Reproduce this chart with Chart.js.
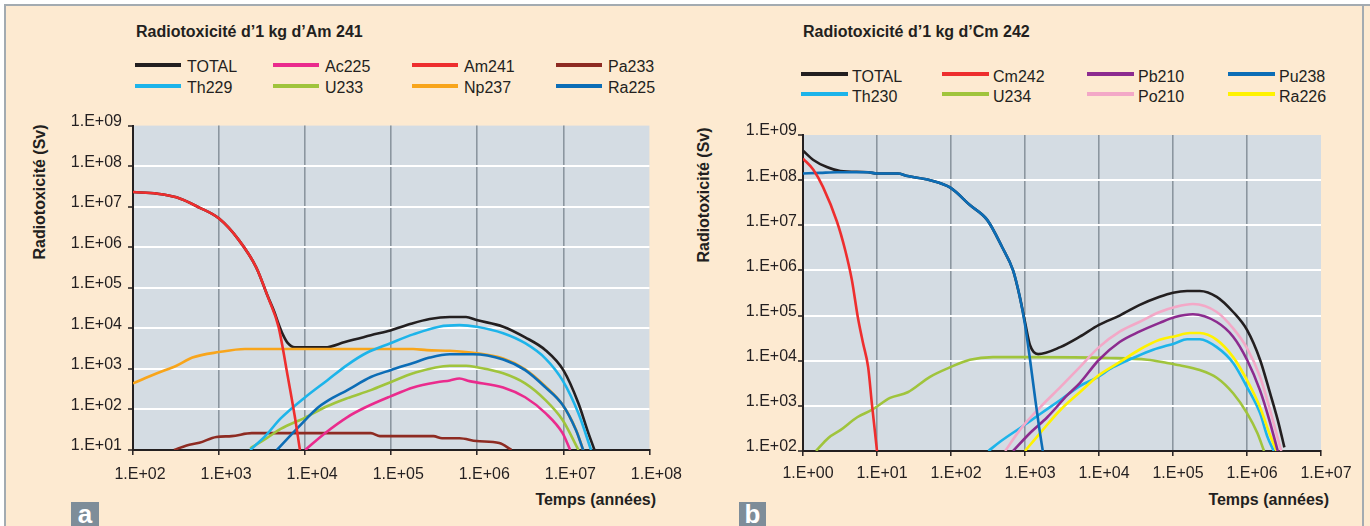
<!DOCTYPE html>
<html><head><meta charset="utf-8">
<script src="https://cdn.jsdelivr.net/npm/chart.js@4.4.1/dist/chart.umd.min.js"></script>
<style>
html,body{margin:0;padding:0;}
body{width:1370px;height:526px;overflow:hidden;position:relative;background:#fff;font-family:'Liberation Sans',Arial,Helvetica,sans-serif;color:#231f20;}
#frame{position:absolute;left:4px;top:4px;width:1366px;height:522px;background:#fdead1;border-left:2px solid #a3abb1;border-top:2px solid #a3abb1;box-sizing:border-box;}
#rline{position:absolute;left:1362px;top:4px;width:2px;height:522px;background:#a3abb1;}
.t{position:absolute;white-space:nowrap;line-height:16px;font-size:16px;}
.b{font-weight:bold;}
.sw{position:absolute;height:4px;}
.tag{position:absolute;background:#7e8d99;color:#fff;font-weight:bold;font-size:26px;line-height:24px;text-align:center;}
canvas{position:absolute;}
</style></head>
<body>
<div id="frame"></div><div id="rline"></div>
<div class="t b" style="left:136px;top:24px;">Radiotoxicité d’1 kg d’Am 241</div>
<div class="t b" style="left:803px;top:24px;">Radiotoxicité d’1 kg d’Cm 242</div>
<div class="t b" style="left:40px;top:192px;transform:translate(-50%,-50%) rotate(-90deg);">Radiotoxicité (Sv)</div>
<div class="t b" style="left:704px;top:195px;transform:translate(-50%,-50%) rotate(-90deg);">Radiotoxicité (Sv)</div>
<div class="t b" style="right:714px;top:492px;">Temps (années)</div>
<div class="t b" style="right:41px;top:492px;">Temps (années)</div>
<div class="tag" style="left:71px;top:502px;width:28px;height:24px;">a</div>
<div class="tag" style="left:739px;top:502px;width:27px;height:24px;">b</div>
<div id="legA"></div><div id="legB"></div>
<canvas id="cA" width="665" height="385" style="left:20px;top:110px;"></canvas>
<canvas id="cB" width="680" height="376" style="left:690px;top:120px;"></canvas>
<script>
// ---------- Chart a : Am 241 ----------
const xTickValsA = [1e2,1e3,1e4,1e5,1e6,1e7,1e8];
const xTickLabelsA = ['1.E+02','1.E+03','1.E+04','1.E+05','1.E+06','1.E+07','1.E+08'];
const yTickValsA = [1e1,1e2,1e3,1e4,1e5,1e6,1e7,1e8,1e9];
const yTickLabelsA = ['1.E+01','1.E+02','1.E+03','1.E+04','1.E+05','1.E+06','1.E+07','1.E+08','1.E+09'];

const totalAT = [1e2,1.9e2,3.2e2,5.9e2,1e3,1.7e3,2.7e3,3.7e3,4.4e3,4.9e3,5.5e3,6.3e3,7.6e3,1e4,1.7e4,2.9e4,5.8e4,9.8e4,1.7e5,2.8e5,4.8e5,7.4e5,9.8e5,2e6,3.6e6,6.2e6,1e7,1.5e7,1.9e7,2.3e7];
const totalAV = [2.3e7,2.1e7,1.7e7,9.5e6,5.1e6,1.5e6,3.2e5,6e4,2.5e4,1.3e4,7.1e3,4.3e3,3.4e3,3.4e3,3.4e3,4.6e3,6.8e3,8.9e3,1.3e4,1.7e4,1.9e4,1.9e4,1.6e4,1.1e4,6e3,2.9e3,9.3e2,1.4e2,31,10];
const ac225T = [1e4,1.7e4,3.1e4,4.9e4,9.8e4,1.8e5,3.4e5,4.8e5,6.2e5,8.1e5,2e6,3.6e6,6.2e6,9.8e6,1.2e7];
const ac225V = [10,26,65,1.1e2,2.1e2,3.5e2,4.7e2,5.2e2,5.8e2,5e2,3.5e2,2e2,81,26,10];
const am241T = [1e2,1.9e2,3.2e2,5.9e2,1e3,1.7e3,2.7e3,3.7e3,4.9e3,6.3e3,7.6e3,8.7e3];
const am241V = [2.3e7,2.1e7,1.7e7,9.5e6,5.1e6,1.5e6,3.2e5,5.9e4,1.1e4,6.3e2,65,10];
const pa233T = [3e2,4.2e2,5.9e2,9.3e2,1.4e3,2.4e3,5.8e4,7.4e4,3.1e5,3.9e5,6.2e5,9.8e5,1.8e6,2.5e6];
const pa233V = [10,13,15,21,22,26,26,22,22,19.5,19.5,16.6,14.8,10];
const th229T = [2.3e3,3.5e3,5.2e3,1e4,1.8e4,3.1e4,5.2e4,9.8e4,1.8e5,3.6e5,6.2e5,9.8e5,2e6,3.6e6,6.2e6,9.8e6,1.5e7,2.1e7];
const th229V = [10,23,60,2e2,5.2e2,1.26e3,2.5e3,4.3e3,7.1e3,1.1e4,1.2e4,1.1e4,7.6e3,4.3e3,1.8e3,5.2e2,79,10];
const u233T = [2.3e3,3.5e3,5.2e3,1e4,1.8e4,3.1e4,5.8e4,9.8e4,1.8e5,4.8e5,7.4e5,9.8e5,2e6,3.6e6,6.2e6,9.8e6,1.5e7];
const u233V = [11,19,33,63,1.2e2,1.9e2,3e2,4.7e2,7.8e2,1.2e3,1.2e3,1.1e3,7.8e2,4.4e2,1.7e2,55,10];
const np237T = [1e2,1.9e2,3.2e2,4.9e2,1e3,2e3,1e4,1.8e5,2.6e5,4.8e5,8.9e5,2e6,3.6e6,6.2e6,9.8e6,1.4e7,1.7e7];
const np237V = [4.4e2,7.8e2,1.2e3,1.9e3,2.6e3,3.1e3,3.1e3,3.1e3,2.9e3,2.8e3,2.5e3,1.8e3,9.8e2,3.7e2,1.3e2,32,10];
const ra225T = [4.7e3,8.3e3,1.4e4,1.8e4,3.1e4,5.8e4,9.8e4,1.8e5,2.8e5,4.8e5,8.9e5,2e6,3.6e6,6.2e6,9.8e6,1.4e7,1.7e7];
const ra225V = [10,36,1.1e2,1.6e2,3e2,6.3e2,9.3e2,1.4e3,1.9e3,2.3e3,2.3e3,1.7e3,9.3e2,3.5e2,1.3e2,31,10];

// ---------- Chart b : Cm 242 ----------
const xTickValsB = [1e0,1e1,1e2,1e3,1e4,1e5,1e6,1e7];
const xTickLabelsB = ['1.E+00','1.E+01','1.E+02','1.E+03','1.E+04','1.E+05','1.E+06','1.E+07'];
const yTickValsB = [1e2,1e3,1e4,1e5,1e6,1e7,1e8,1e9];
const yTickLabelsB = ['1.E+02','1.E+03','1.E+04','1.E+05','1.E+06','1.E+07','1.E+08','1.E+09'];

const totalBT = [1,1.38,2.1,3.2,7.6,10,19,26,52,98,1.8e2,3.1e2,4.9e2,6.9e2,8.5e2,1e3,1.17e3,1.5e3,3e3,5.5e3,1e4,1.9e4,3.5e4,6.6e4,1e5,1.55e5,2.3e5,3.9e5,6.5e5,1e6,1.5e6,2e6,2.6e6,3.2e6];
const totalBV = [4.5e8,2.8e8,1.95e8,1.6e8,1.5e8,1.4e8,1.4e8,1.23e8,1e8,6.8e7,2.8e7,1.3e7,3.3e6,1e6,2.6e5,7.2e4,2.2e4,1.4e4,2e4,3.4e4,6.2e4,1e5,1.7e5,2.6e5,3.2e5,3.5e5,3.5e5,2.6e5,1.2e5,4.8e4,1.05e4,2.2e3,4.9e2,1.2e2];
const cm242T = [1,1.38,1.86,2.88,3.72,4.57,5.5,6.46,7.59,8.51,9.33,10];
const cm242V = [3e8,1.7e8,7.1e7,1.2e7,2.8e6,6.2e5,9.3e4,2.5e4,7.2e3,1.15e3,2.9e2,1e2];
const pb210T = [6.9e2,1.17e3,2e3,3.7e3,5.5e3,1e4,1.9e4,3.5e4,6.6e4,1.07e5,1.86e5,3.9e5,6.5e5,1e6,1.5e6,2e6,2.6e6];
const pb210V = [1e2,2.5e2,5.6e2,1.7e3,3.2e3,1.05e4,2.6e4,4.4e4,6.9e4,9.3e4,1.07e5,7.2e4,3.4e4,1.05e4,2.2e3,4.9e2,1e2];
const pu238T = [1,1.7,2.9,7.6,10,19,26,52,98,1.8e2,3.1e2,4.9e2,6.9e2,8.5e2,1e3,1.17e3,1.38e3,1.55e3,1.74e3];
const pu238V = [1.4e8,1.45e8,1.5e8,1.5e8,1.4e8,1.4e8,1.23e8,1e8,6.8e7,2.8e7,1.3e7,3.3e6,1e6,2.6e5,6.3e4,1.05e4,1.35e3,3.4e2,1e2];
const th230T = [3.2e2,4.6e2,8.5e2,1.6e3,3e3,5.5e3,9.3e3,1.55e4,2.9e4,5.4e4,1.07e5,1.55e5,2.3e5,3.9e5,6.5e5,1e6,1.5e6,1.9e6,2.3e6];
const th230V = [1e2,1.6e2,3.2e2,6.6e2,1.35e3,2.75e3,4.2e3,7.2e3,1.15e4,1.75e4,2.45e4,3e4,3e4,2e4,8.9e3,2.6e3,6.9e2,2e2,1e2];
const u234T = [1.5,2.2,3.2,5.4,8.5,15,26,52,98,1.8e2,3.7e2,1e3,1.4e4,4.5e4,8.3e4,1.23e5,2.3e5,3.9e5,6.5e5,1e6,1.38e6,1.7e6];
const u234V = [1e2,1.95e2,2.9e2,5.6e2,8.1e2,1.5e3,2e3,4.4e3,7.2e3,1.05e4,1.2e4,1.2e4,1.15e4,1.05e4,8.9e3,7.9e3,6.2e3,4.2e3,1.9e3,6.9e2,2.5e2,1e2];
const po210T = [5.4e2,8.5e2,1.6e3,3e3,5.5e3,1e4,1.9e4,3.5e4,6.6e4,1.07e5,1.86e5,3.9e5,6.5e5,1e6,1.5e6,2e6,2.9e6];
const po210V = [1e2,2.9e2,9.3e2,2.6e3,7.2e3,2e4,4.4e4,7.2e4,1.2e5,1.55e5,1.8e5,1.2e5,5.2e4,1.9e4,4.4e3,9.3e2,1e2];
const ra226T = [1e3,1.6e3,3e3,5.5e3,1e4,1.9e4,3.5e4,6.6e4,1.07e5,1.7e5,2.3e5,3.9e5,6.5e5,1e6,1.5e6,2e6,2.5e6];
const ra226V = [1e2,2.5e2,8.1e2,2e3,4.8e3,9.3e3,1.75e4,2.9e4,3.5e4,4.1e4,4.1e4,2.9e4,1.2e4,3.7e3,9.3e2,2.5e2,1e2];

// legend order (name, colour, data, z-order: higher = drawn below)
const seriesA = [
  ['TOTAL','#231f20',totalAT,totalAV,10],
  ['Ac225','#ea2b8d',ac225T,ac225V,6],
  ['Am241','#ee2e2e',am241T,am241V,1],
  ['Pa233','#8e2b22',pa233T,pa233V,8],
  ['Th229','#1db4ea',th229T,th229V,4],
  ['U233','#a0c43c',u233T,u233V,7],
  ['Np237','#f8a51b',np237T,np237V,9],
  ['Ra225','#0c6db6',ra225T,ra225V,5]
];
const seriesB = [
  ['TOTAL','#231f20',totalBT,totalBV,10],
  ['Cm242','#ee2e2e',cm242T,cm242V,1],
  ['Pb210','#8c2b8f',pb210T,pb210V,6],
  ['Pu238','#0c6db6',pu238T,pu238V,2],
  ['Th230','#1db4ea',th230T,th230V,8],
  ['U234','#a0c43c',u234T,u234V,9],
  ['Po210','#f3a8c7',po210T,po210V,5],
  ['Ra226','#fff200',ra226T,ra226V,7]
];

function buildLegend(el, series, colX, rowY, lineLen, textOff) {
  let h = '';
  series.forEach((s, i) => {
    const x = colX[i % 4], y = rowY[Math.floor(i / 4)];
    h += '<div class="sw" style="left:' + x + 'px;top:' + (y - 2) + 'px;width:' + lineLen + 'px;background:' + s[1] + '"></div>';
    h += '<div class="t" style="left:' + (x + textOff) + 'px;top:' + (y - 5.5) + 'px;">' + s[0] + '</div>';
  });
  document.getElementById(el).innerHTML = h;
}
buildLegend('legA', seriesA, [135, 273, 412, 556], [64.5, 85.5], 46, 52);
buildLegend('legB', seriesB, [801, 942, 1087, 1228], [74, 94], 47, 51);

const FONT = "'Liberation Sans', Arial, Helvetica, sans-serif";
const plotBg = {
  id: 'plotBg',
  beforeDraw(c) {
    const a = c.chartArea, x = c.ctx;
    x.save(); x.fillStyle = '#d4dce3';
    x.fillRect(a.left, a.top, a.right - a.left, a.bottom - a.top);
    x.restore();
  }
};

function axis(isX, vals, labels, o) {
  return {
    type: 'logarithmic',
    min: vals[0], max: vals[vals.length - 1],
    afterBuildTicks: s => { s.ticks = vals.map(v => ({ value: v })); },
    afterFit: s => { if (isX) s.height = o.size; else s.width = o.size; },
    ticks: {
      autoSkip: false, maxRotation: 0, minRotation: 0,
      padding: o.pad, labelOffset: o.off, color: '#231f20',
      font: { family: FONT, size: 16 },
      callback: (v, i) => labels[i]
    },
    grid: {
      color: c => (c.index === 0 || c.index === vals.length - 1) ? 'rgba(0,0,0,0)' : o.grid,
      lineWidth: o.gw, tickLength: 5, tickColor: '#231f20', tickWidth: 1.5
    },
    border: { display: true, color: '#231f20', width: 2 }
  };
}

function datasets(series) {
  return series.map(s => ({
    label: s[0], borderColor: s[1], backgroundColor: s[1],
    data: s[2].map((t, i) => ({ x: t, y: s[3][i] })),
    order: s[4], borderWidth: 2.6, pointRadius: 0, fill: false,
    cubicInterpolationMode: 'monotone'
  }));
}

function make(id, series, xv, xl, yv, yl, pad, xo, yo) {
  new Chart(document.getElementById(id), {
    type: 'line',
    data: { datasets: datasets(series) },
    plugins: [plotBg],
    options: {
      responsive: false, animation: false,
      layout: { padding: pad },
      plugins: { legend: { display: false }, tooltip: { enabled: false } },
      scales: {
        x: axis(true, xv, xl, xo),
        y: axis(false, yv, yl, yo)
      }
    }
  });
}

make('cA', seriesA, xTickValsA, xTickLabelsA, yTickValsA, yTickLabelsA,
  { top: 15, right: 30, bottom: 0, left: 0 },
  { size: 45, pad: 10, off: 7, grid: '#8b969f', gw: 1.6 },
  { size: 113, pad: 6, off: -4, grid: '#ffffff', gw: 2 });
make('cB', seriesB, xTickValsB, xTickLabelsB, yTickValsB, yTickLabelsB,
  { top: 15, right: 49, bottom: 0, left: 0 },
  { size: 45, pad: 8, off: 5, grid: '#8b969f', gw: 1.6 },
  { size: 113, pad: 1, off: -4, grid: '#ffffff', gw: 2 });
</script>
</body></html>
